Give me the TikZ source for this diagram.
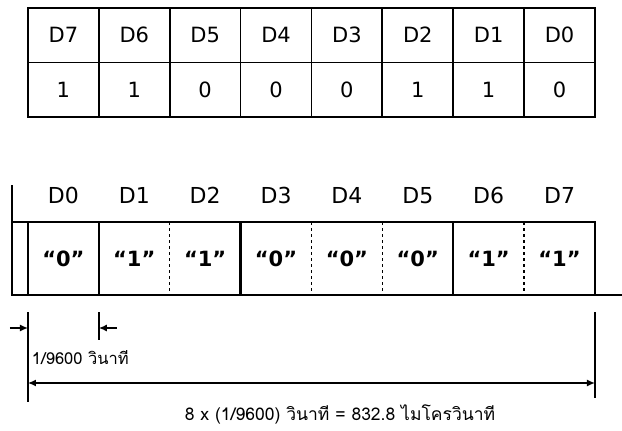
\documentclass[tikz,border=0pt]{standalone}
\usepackage{fontspec}
\setmainfont{DejaVu Sans}
\newfontfamily\thaifont[Script=Thai]{Loma}
\usetikzlibrary{arrows.meta, positioning}
\tikzset{
  every picture/.style={x=1pt, y=-1pt, line width=1.8pt},
  cell/.style={draw, minimum width=70.875pt, minimum height=54.5pt, inner sep=0pt, outer sep=0pt, text height=15.3pt, text depth=0pt, font=\fontsize{21}{24}\selectfont},
  bitname/.style={text height=16pt, text depth=0pt, font=\fontsize{22}{25}\selectfont},
  bit/.style={minimum width=70.875pt, minimum height=73pt, inner sep=0pt, outer sep=0pt, text height=15.3pt, text depth=0pt, font=\bfseries\fontsize{21}{24}\selectfont},
  edge/.style={line width=2.4pt},
  sep/.style={line width=1.2pt, dash pattern=on 3pt off 3pt},
  dim/.style={line width=1.4pt},
  tip/.style={-{Latex[length=8pt, width=7pt]}, line width=1.4pt},
  note/.style={font=\thaifont\fontsize{16.5}{18}\selectfont, inner sep=1pt},
}

\begin{document}
\begin{tikzpicture}
  \useasboundingbox (0,0) rectangle (622,431);
  % data byte table
  \node[cell] (h7) at (63.4,35.25) {D7};
  \node[cell, right=0pt of h7] (h6) {D6}; \node[cell, right=0pt of h6] (h5) {D5};
  \node[cell, right=0pt of h5] (h4) {D4}; \node[cell, right=0pt of h4] (h3) {D3};
  \node[cell, right=0pt of h3] (h2) {D2}; \node[cell, right=0pt of h2] (h1) {D1};
  \node[cell, right=0pt of h1] (h0) {D0};
  \node[cell, below=0pt of h7] (v7) {1}; \node[cell, below=0pt of h6] (v6) {1};
  \node[cell, below=0pt of h5] (v5) {0}; \node[cell, below=0pt of h4] (v4) {0};
  \node[cell, below=0pt of h3] (v3) {0}; \node[cell, below=0pt of h2] (v2) {1};
  \node[cell, below=0pt of h1] (v1) {1}; \node[cell, below=0pt of h0] (v0) {0};
  % serial frame, D0 first
  \node[bit] (b0) at (63.4,258.5) {“0”};
  \node[bit, right=0pt of b0] (b1) {“1”}; \node[bit, right=0pt of b1] (b2) {“1”};
  \node[bit, right=0pt of b2] (b3) {“0”}; \node[bit, right=0pt of b3] (b4) {“0”};
  \node[bit, right=0pt of b4] (b5) {“0”}; \node[bit, right=0pt of b5] (b6) {“1”};
  \node[bit, right=0pt of b6] (b7) {“1”};
  \node[bitname] (n0) at (63.4,195) {D0}; \node[bitname] (n1) at (134.3,195) {D1};
  \node[bitname] (n2) at (205.2,195) {D2}; \node[bitname] (n3) at (276.1,195) {D3};
  \node[bitname] (n4) at (346.9,195) {D4}; \node[bitname] (n5) at (417.8,195) {D5};
  \node[bitname] (n6) at (488.7,195) {D6}; \node[bitname] (n7) at (559.6,195) {D7};
  \coordinate (idle) at (12,185); \coordinate (line end) at (622,295);
  \draw[edge] (idle) -- (idle |- b0.south) -- (line end);
  \draw[edge] (idle |- b0.north) -- (b7.north east) -- (b7.south east);
  \draw[edge] (b0.north west) -- (b0.south west); \draw[edge] (b1.north west) -- (b1.south west);
  \draw[sep] (b2.north west) -- (b2.south west); \draw[edge] (b3.north west) -- (b3.south west);
  \draw[sep] (b4.north west) -- (b4.south west); \draw[sep] (b5.north west) -- (b5.south west);
  \draw[edge] (b6.north west) -- (b6.south west); \draw[sep] (b7.north west) -- (b7.south west);
  % timing
  \draw[dim] ([yshift=-17pt]b0.south west) -- ([yshift=-107pt]b0.south west);
  \draw[dim] ([yshift=-17pt]b1.south west) -- ([yshift=-45pt]b1.south west);
  \draw[dim] ([yshift=-17pt]b7.south east) -- ([yshift=-103pt]b7.south east);
  \draw[tip] ([xshift=-18pt, yshift=-33pt]b0.south west) -- ([yshift=-33pt]b0.south west);
  \draw[tip] ([xshift=18pt, yshift=-33pt]b1.south west) -- ([yshift=-33pt]b1.south west);
  \node[note, anchor=west] (bit time) at (30,358) {1/9600 วินาที};
  \draw[tip, {Latex[length=8pt, width=7pt]}-{Latex[length=8pt, width=7pt]}] ([yshift=-88pt]b0.south west) -- ([yshift=-88pt]b7.south east);
  \node[note, font=\thaifont\fontsize{17.5}{19}\selectfont] (frame time) at (340,414) {8 x (1/9600) วินาที = 832.8 ไมโครวินาที};
\end{tikzpicture}
\end{document}
